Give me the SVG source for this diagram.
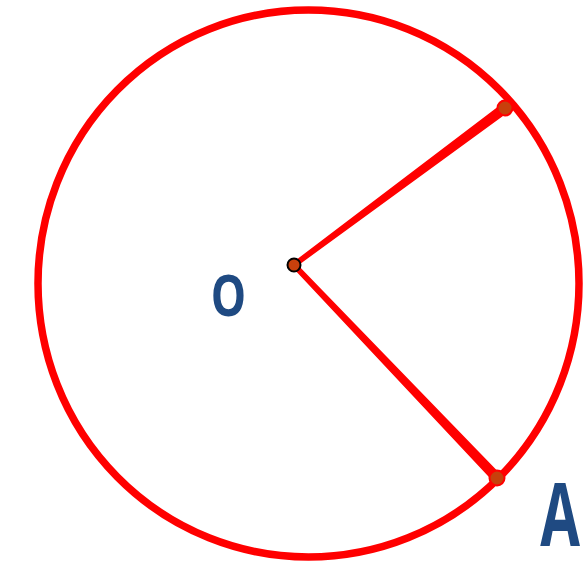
<svg xmlns="http://www.w3.org/2000/svg" width="584" height="561" viewBox="0 0 584 561">
<style>
.circ{fill:none;stroke:#ff0000;stroke-width:7.5}
.rad{fill:#ff0000;stroke:#ff0000;stroke-width:1.5;stroke-linejoin:round}
.pt{fill:#c8400c;stroke:#ff0000;stroke-width:2}
.ctr{fill:#c8400c;stroke:#000;stroke-width:2}
.lbl{font-family:"Open Sans","DejaVu Sans",sans-serif;font-weight:700;fill:#1f4a82}
</style>
<rect width="584" height="561" fill="#fff"/>
<g id="circle"><ellipse class="circ" cx="308.5" cy="283.5" rx="270.5" ry="273.5"/></g>
<g id="connectors">
<polygon class="rad" points="295.2,266.6 292.8,263.4 502.3,104.4 507.7,111.6"/>
<polygon class="rad" points="292.6,266.4 295.4,263.6 500.3,474.9 493.7,481.1"/>
</g>
<g id="node-O"><circle class="ctr" cx="294" cy="265" r="6.5"/><text class="lbl" font-size="57" text-anchor="middle" transform="translate(228.5,316) scale(0.78,1)">O</text></g>
<g id="node-A1"><circle class="pt" cx="505" cy="108" r="7.5"/></g>
<g id="node-A2"><circle class="pt" cx="497" cy="478" r="7.5"/></g>
<g id="label-A"><text class="lbl" font-size="80" text-anchor="middle" transform="translate(560,546) scale(0.72,1.1)">A</text></g>
</svg>
